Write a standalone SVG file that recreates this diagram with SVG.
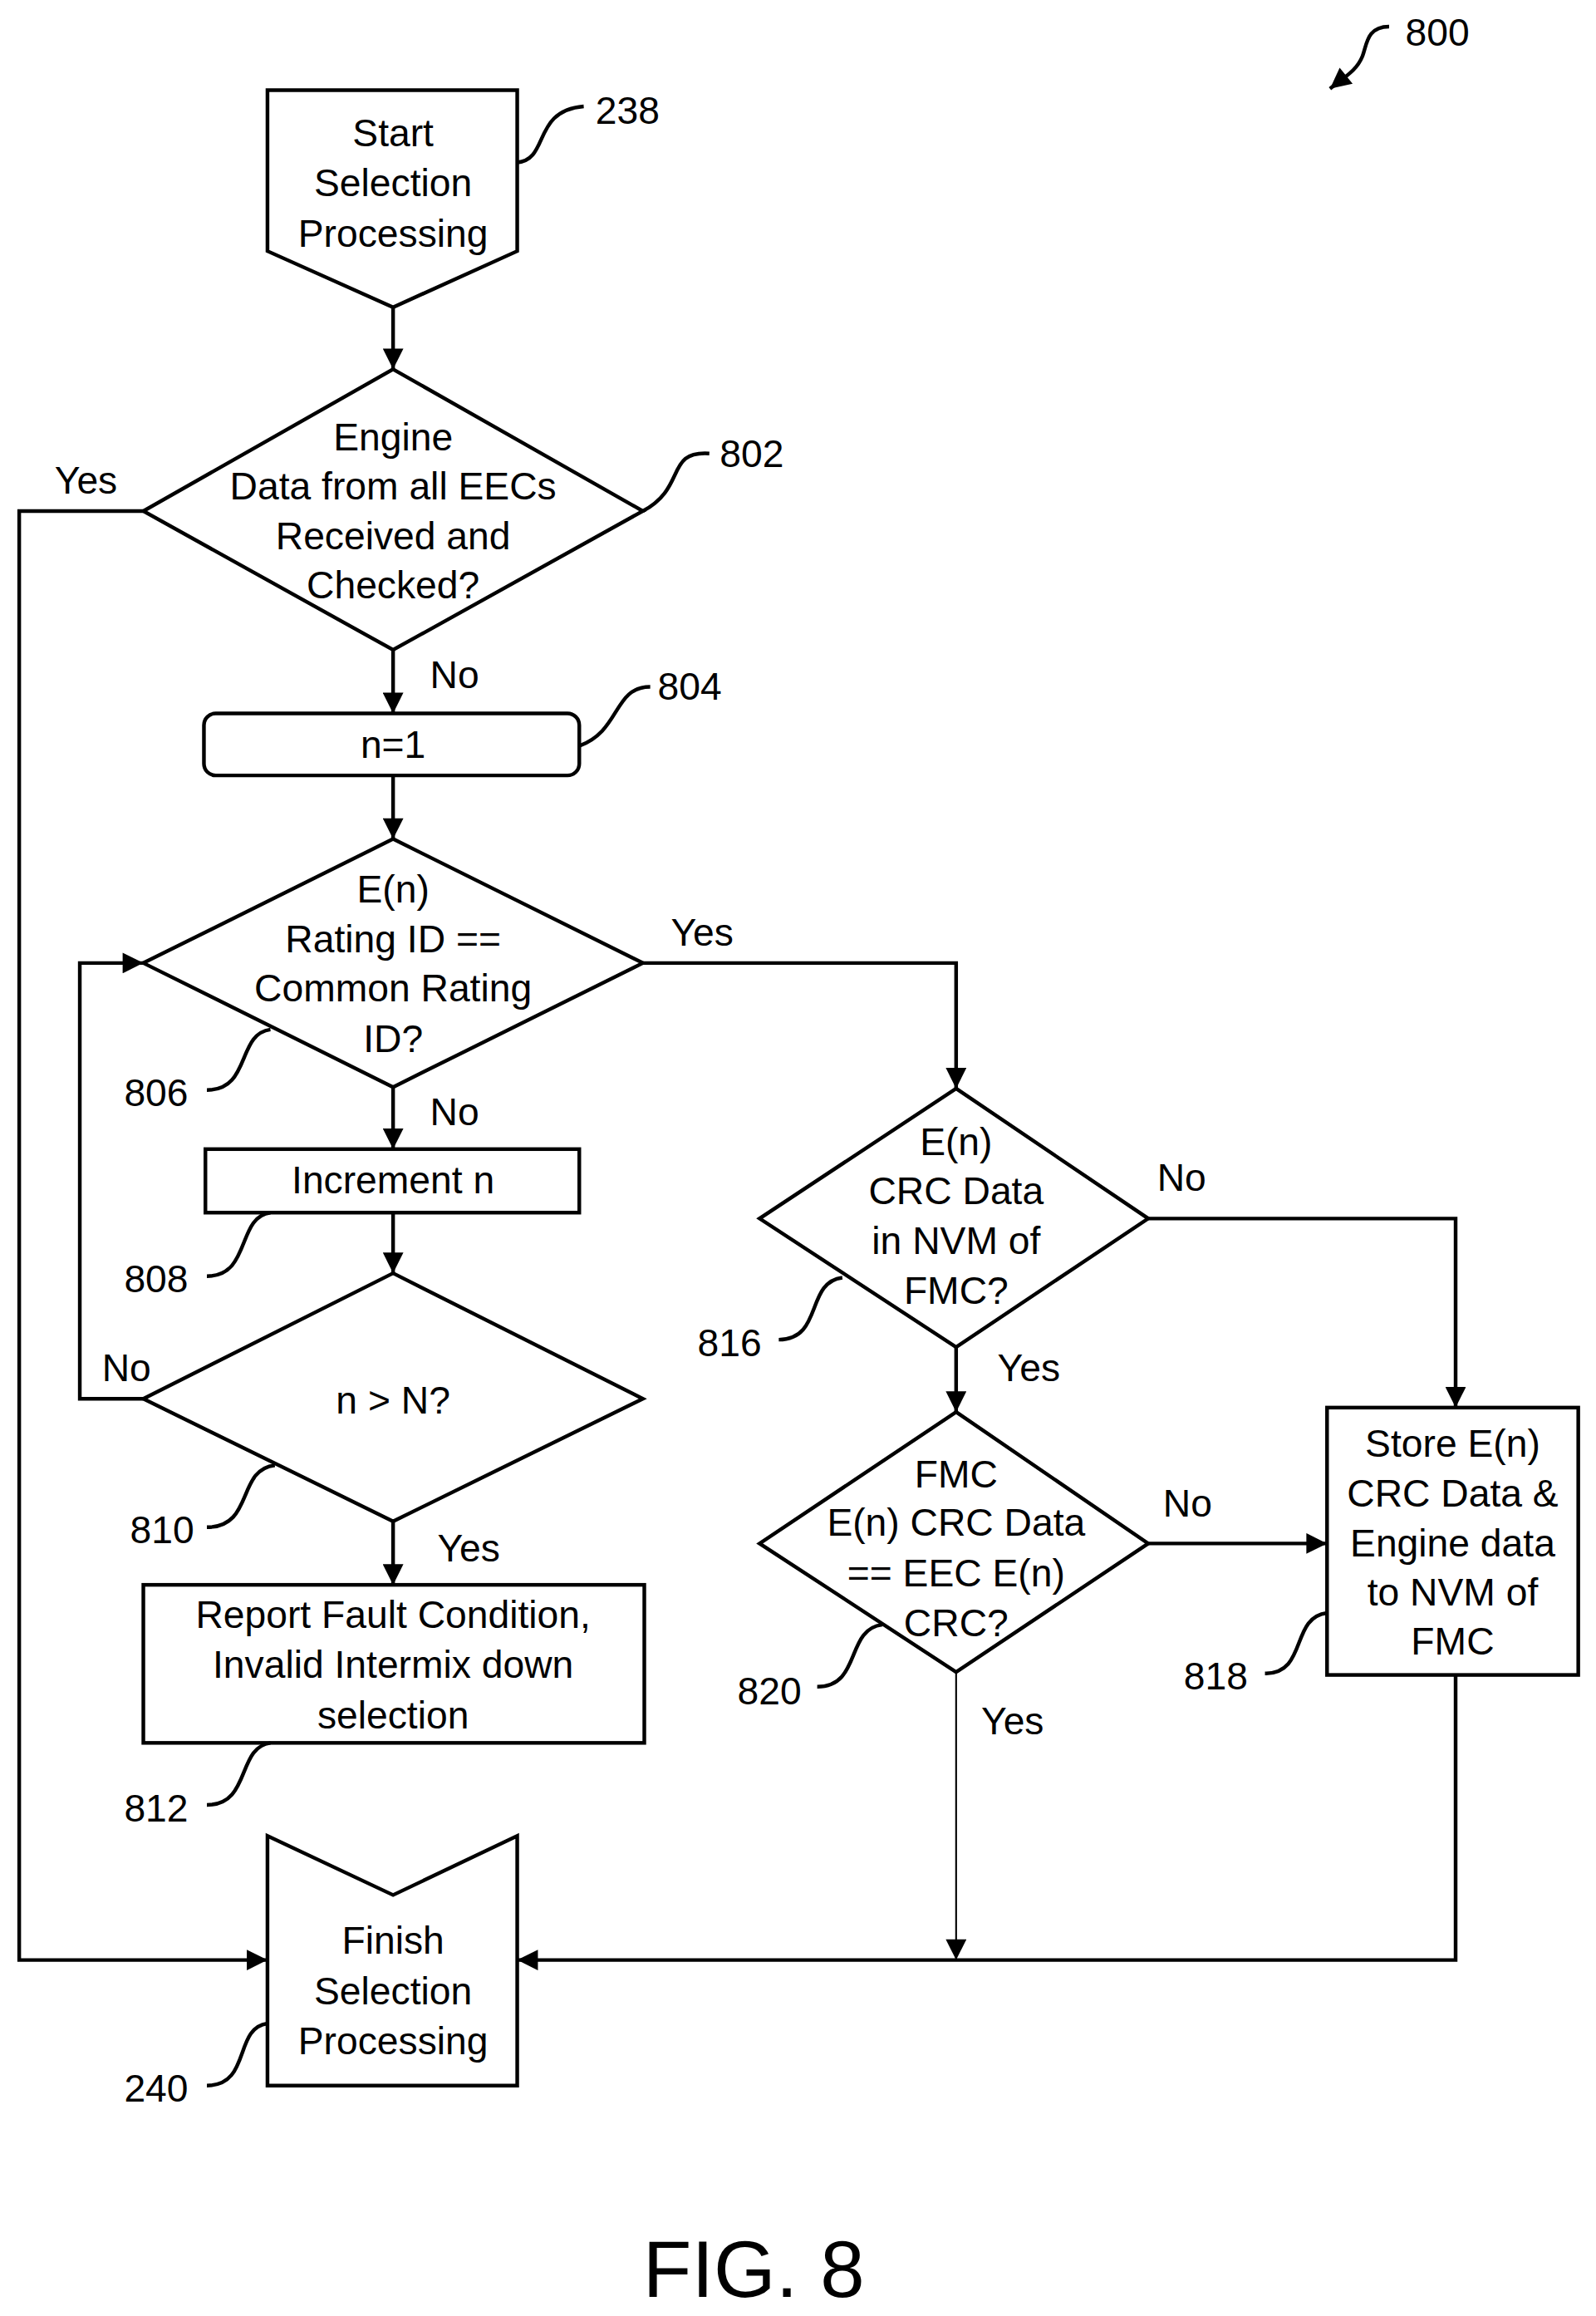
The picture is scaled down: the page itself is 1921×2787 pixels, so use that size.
<svg xmlns="http://www.w3.org/2000/svg" width="1921" height="2787" viewBox="0 0 1921 2787">
<defs>
<marker id="ah" viewBox="0 0 10 10" refX="10" refY="5" markerWidth="6" markerHeight="6" markerUnits="userSpaceOnUse" orient="auto"><path d="M0,0 L10,5 L0,10 z" fill="#000"/></marker>
<style>
.s{fill:#fff;stroke:#000;stroke-width:2.5}
.l{fill:none;stroke:#000;stroke-width:2.5}
.a{fill:none;stroke:#000;stroke-width:2.5;marker-end:url(#ah)}
text{font-family:"Liberation Sans",Arial,sans-serif;font-size:26px;fill:#000}
.c{text-anchor:middle}
</style>
</defs>
<rect width="1921" height="2787" fill="#fff"/>
<g transform="scale(1.7787,1.7774)">
<defs><marker id="ah2" viewBox="0 0 10 10" refX="10" refY="5" markerWidth="18" markerHeight="14" markerUnits="userSpaceOnUse" orient="auto"><path d="M0,0 L10,5 L0,10 z" fill="#000"/></marker></defs>
<g id="connectors" style="marker-end:url(#ah2)">
<path class="l" d="M266,208 V250" style="marker-end:url(#ah2)"/>
<path class="l" d="M97,346 H13 V1327 H181" style="marker-end:url(#ah2)"/>
<path class="l" d="M266,440 V483" style="marker-end:url(#ah2)"/>
<path class="l" d="M266,525 V568" style="marker-end:url(#ah2)"/>
<path class="l" d="M435,652 H647 V737" style="marker-end:url(#ah2)"/>
<path class="l" d="M266,736 V778" style="marker-end:url(#ah2)"/>
<path class="l" d="M266,821 V862" style="marker-end:url(#ah2)"/>
<path class="l" d="M97,947 H54 V652 H97" style="marker-end:url(#ah2)"/>
<path class="l" d="M266,1030 V1073" style="marker-end:url(#ah2)"/>
<path class="l" d="M777,825 H985 V953" style="marker-end:url(#ah2)"/>
<path class="l" d="M647,912 V956" style="marker-end:url(#ah2)"/>
<path class="l" d="M777,1045 H898" style="marker-end:url(#ah2)"/>
<path class="l" d="M647,1132 V1327" style="stroke-width:1.2"/>
<path class="l" d="M985,1134 V1327 H350" style="marker-end:url(#ah2)"/>
<path class="l" d="M940,18 C925,18 925,30 922,38 C918,48 910,52 900,60" style="marker-end:url(#ah2)"/>
</g>
<g id="n238"><path class="s" d="M181,61 H350 V170 L266,208 L181,170 Z"/>
<text class="c" x="266" y="99">Start</text><text class="c" x="266" y="133">Selection</text><text class="c" x="266" y="167">Processing</text>
<path class="l" d="M350,110 C372,108 360,75 395,72"/><text x="403" y="84">238</text></g>
<g id="n802"><path class="s" d="M266,250 L435,346 L266,440 L97,346 Z"/>
<text class="c" x="266" y="305">Engine</text><text class="c" x="266" y="338">Data from all EECs</text><text class="c" x="266" y="372">Received and</text><text class="c" x="266" y="405">Checked?</text>
<text x="37" y="334">Yes</text><text x="291" y="466">No</text>
<path class="l" d="M435,346 C465,330 450,305 480,307"/><text x="487" y="316">802</text></g>
<g id="n804"><rect class="s" x="138" y="483" width="254" height="42" rx="8"/>
<text class="c" x="266" y="513">n=1</text>
<path class="l" d="M392,505 C420,495 415,465 440,465"/><text x="445" y="474">804</text></g>
<g id="n806"><path class="s" d="M266,568 L435,652 L266,736 L97,652 Z"/>
<text class="c" x="266" y="611">E(n)</text><text class="c" x="266" y="645">Rating ID ==</text><text class="c" x="266" y="678">Common Rating</text><text class="c" x="266" y="712">ID?</text>
<text x="454" y="640">Yes</text><text x="291" y="762">No</text>
<path class="l" d="M140,738 C170,738 160,700 183,697"/><text x="84" y="749">806</text></g>
<g id="n808"><rect class="s" x="139" y="778" width="253" height="43"/>
<text class="c" x="266" y="808">Increment n</text>
<path class="l" d="M140,864 C170,864 160,824 183,821"/><text x="84" y="875">808</text></g>
<g id="n810"><path class="s" d="M266,862 L435,947 L266,1030 L97,947 Z"/>
<text class="c" x="266" y="957">n &gt; N?</text>
<text x="69" y="935">No</text><text x="296" y="1057">Yes</text>
<path class="l" d="M140,1034 C172,1034 160,995 186,992"/><text x="88" y="1045">810</text></g>
<g id="n812"><rect class="s" x="97" y="1073" width="339" height="107"/>
<text class="c" x="266" y="1102">Report Fault Condition,</text><text class="c" x="266" y="1136">Invalid Intermix down</text><text class="c" x="266" y="1170">selection</text>
<path class="l" d="M140,1222 C170,1222 160,1183 183,1180"/><text x="84" y="1233">812</text></g>
<g id="n240"><path class="s" d="M181,1243 L266,1283 L350,1243 V1412 H181 Z"/>
<text class="c" x="266" y="1323">Finish</text><text class="c" x="266" y="1357">Selection</text><text class="c" x="266" y="1391">Processing</text>
<path class="l" d="M140,1412 C170,1412 158,1373 181,1370"/><text x="84" y="1423">240</text></g>
<g id="n816"><path class="s" d="M647,737 L777,825 L647,912 L514,825 Z"/>
<text class="c" x="647" y="782">E(n)</text><text class="c" x="647" y="815">CRC Data</text><text class="c" x="647" y="849">in NVM of</text><text class="c" x="647" y="883">FMC?</text>
<text x="783" y="806">No</text><text x="675" y="935">Yes</text>
<path class="l" d="M527,907 C557,907 545,868 570,865"/><text x="472" y="918">816</text></g>
<g id="n820"><path class="s" d="M647,956 L777,1045 L647,1132 L514,1045 Z"/>
<text class="c" x="647" y="1007">FMC</text><text class="c" x="647" y="1040">E(n) CRC Data</text><text class="c" x="647" y="1074">== EEC E(n)</text><text class="c" x="647" y="1108">CRC?</text>
<text x="787" y="1027">No</text><text x="664" y="1174">Yes</text>
<path class="l" d="M553,1142 C583,1142 572,1103 597,1100"/><text x="499" y="1154">820</text></g>
<g id="n818"><rect class="s" x="898" y="953" width="170" height="181"/>
<text class="c" x="983" y="986">Store E(n)</text><text class="c" x="983" y="1020">CRC Data &amp;</text><text class="c" x="983" y="1054">Engine data</text><text class="c" x="983" y="1087">to NVM of</text><text class="c" x="983" y="1120">FMC</text>
<path class="l" d="M856,1133 C885,1133 873,1095 898,1092"/><text x="801" y="1144">818</text></g>
<text x="951" y="31">800</text>
<text class="c" x="510" y="1555" style="font-size:54px">FIG. 8</text>
</g>
</svg>
